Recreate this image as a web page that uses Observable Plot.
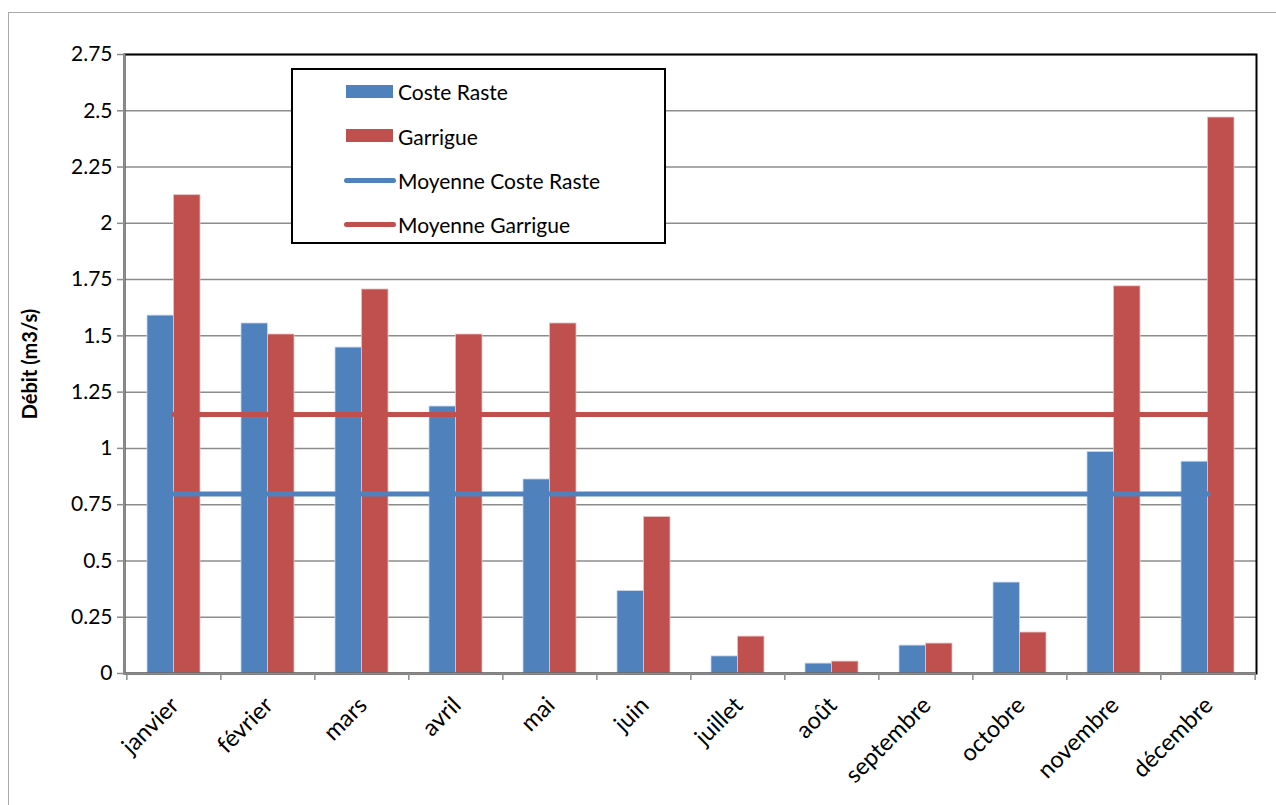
<!DOCTYPE html>
<html>
<head>
<meta charset="utf-8">
<script src="https://cdn.jsdelivr.net/npm/d3@7"></script>
<script src="https://cdn.jsdelivr.net/npm/@observablehq/plot@0.6"></script>
<style>
  html, body { margin: 0; padding: 0; background: #fff; }
  #wrap { position: relative; width: 1276px; height: 805px; overflow: hidden; font-family: Lato, "Open Sans", sans-serif; }
  #outer { position: absolute; left: 8px; top: 12px; width: 1400px; height: 900px; border-left: 1.5px solid #a9a9a9; border-top: 1.5px solid #a9a9a9; }
  #chart { position: absolute; left: 0; top: 0; }
  #legend { position: absolute; left: 291px; top: 68px; width: 371px; height: 172px; border: 2px solid #000; background: #fff; }
  .lg-sw { position: absolute; }
  .lg-tx { position: absolute; left: 105px; font-size: 21px; color: #000; line-height: 1; transform: translateY(-50%); white-space: nowrap; }
</style>
</head>
<body>
<div id="wrap">
  <div id="outer"></div>
  <div id="chart"></div>
  <div id="legend"></div>
</div>
<script>
// ---- Data ----
const months = ["janvier","février","mars","avril","mai","juin","juillet","août","septembre","octobre","novembre","décembre"];
const costeRaste = [1.59, 1.555, 1.448, 1.186, 0.862, 0.366, 0.076, 0.044, 0.124, 0.404, 0.984, 0.941];
const garrigue   = [2.125, 1.506, 1.706, 1.506, 1.555, 0.695, 0.164, 0.053, 0.133, 0.182, 1.72, 2.47];
const moyenneCosteRaste = 0.798;
const moyenneGarrigue = 1.151;
const yTicks = [0, 0.25, 0.5, 0.75, 1, 1.25, 1.5, 1.75, 2, 2.25, 2.5, 2.75];
const seriesNames = ["Coste Raste", "Garrigue", "Moyenne Coste Raste", "Moyenne Garrigue"];
const colors = { cr: "#4F81BD", g: "#C0504D" };
const yLabel = "Débit (m3/s)";

// ---- Layout ----
const W = 1276, H = 805;
const mL = 124, mR = 20, mT = 54, mB = 132;
const padInner = 0.438, padOuter = padInner / 2;
const step = (W - mL - mR) / (months.length - padInner + 2 * padOuter);
const bw = step * (1 - padInner);

const crData = months.map((m, i) => ({month: m, value: costeRaste[i]}));
const gData = months.map((m, i) => ({month: m, value: garrigue[i]}));
const meanCR = months.map(m => ({month: m, value: moyenneCosteRaste}));
const meanG = months.map(m => ({month: m, value: moyenneGarrigue}));

const chart = Plot.plot({
  width: W,
  height: H,
  marginLeft: mL, marginRight: mR, marginTop: mT, marginBottom: mB,
  style: { fontFamily: "Lato, 'Open Sans', sans-serif", fontSize: "21px", color: "#000", background: "transparent" },
  x: { type: "band", domain: months, paddingInner: padInner, paddingOuter: padOuter, label: null },
  y: { domain: [0, 2.75], label: null },
  marks: [
    Plot.gridY(yTicks, { stroke: "#8c8c8c", strokeOpacity: 1, strokeWidth: 1.5 }),
    Plot.barY(crData, { x: "month", y: "value", fill: colors.cr, insetRight: bw / 2, stroke: "#c9d7ea", strokeWidth: 0.8 }),
    Plot.barY(gData, { x: "month", y: "value", fill: colors.g, insetLeft: bw / 2, stroke: "#e8c3c2", strokeWidth: 0.8 }),
    Plot.lineY(meanG, { x: "month", y: "value", stroke: colors.g, strokeWidth: 5, strokeLinecap: "round" }),
    Plot.lineY(meanCR, { x: "month", y: "value", stroke: colors.cr, strokeWidth: 5, strokeLinecap: "round" }),
    Plot.frame({ stroke: "#000", strokeWidth: 2 }),
    Plot.ruleY([0], { stroke: "#8c8c8c", strokeWidth: 2 }),
    Plot.frame({ anchor: "left", stroke: "#8c8c8c", strokeWidth: 2 }),
    Plot.axisY({ ticks: yTicks, tickSize: 7, tickPadding: 5, stroke: "#8c8c8c", strokeWidth: 1.5, tickFormat: d => String(d), fontSize: 21, label: null }),
    Plot.axisX({ ticks: months, tickSize: 7, dx: -step / 2, stroke: "#8c8c8c", strokeWidth: 1.5, tickFormat: () => "", label: null }),
    Plot.axisX({ ticks: [months[months.length - 1]], tickSize: 7, dx: step / 2, stroke: "#8c8c8c", strokeWidth: 1.5, tickFormat: () => "", label: null }),
    Plot.axisX({ ticks: months, tickSize: 0, tickPadding: 28, tickRotate: -45, dx: 1, fontSize: 23.5, label: null }),
    Plot.text([yLabel], { frameAnchor: "left", dx: -94, rotate: -90, textAnchor: "middle", fontWeight: "bold", fontSize: 20, fill: "#000" })
  ]
});
document.getElementById("chart").appendChild(chart);

// ---- Legend ----
const legend = document.getElementById("legend");
const rows = [
  { name: seriesNames[0], type: "rect", color: colors.cr, y: 21 },
  { name: seriesNames[1], type: "rect", color: colors.g, y: 65.5 },
  { name: seriesNames[2], type: "line", color: colors.cr, y: 110 },
  { name: seriesNames[3], type: "line", color: colors.g, y: 154 }
];
rows.forEach(r => {
  const sw = document.createElement("div");
  sw.className = "lg-sw";
  if (r.type === "rect") {
    Object.assign(sw.style, { left: "53px", top: (r.y - 6.5) + "px", width: "47px", height: "13px", background: r.color });
  } else {
    Object.assign(sw.style, { left: "51px", top: (r.y - 2.5) + "px", width: "52px", height: "5px", background: r.color, borderRadius: "3px" });
  }
  legend.appendChild(sw);
  const tx = document.createElement("div");
  tx.className = "lg-tx";
  tx.style.top = r.y + "px";
  tx.textContent = r.name;
  legend.appendChild(tx);
});
</script>
</body>
</html>
